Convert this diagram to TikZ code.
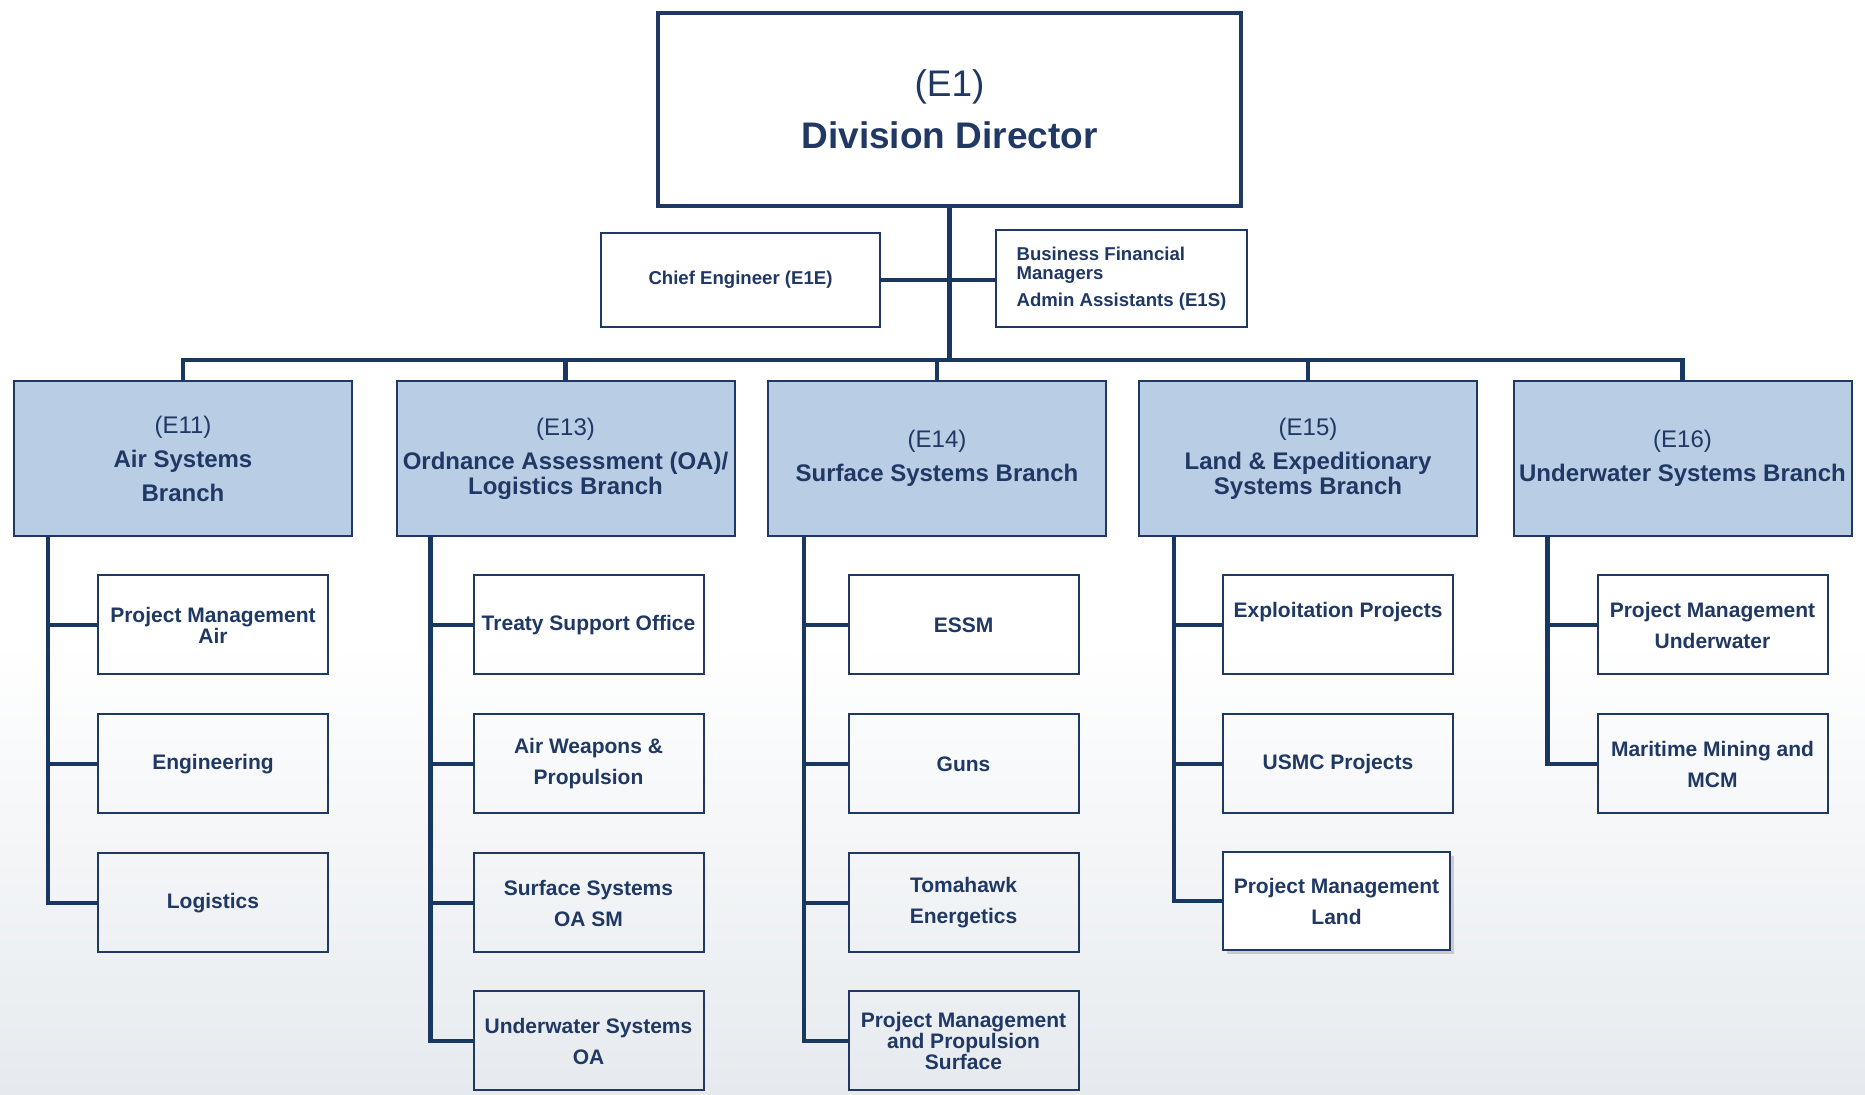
\documentclass[tikz,border=0pt]{standalone}
\usepackage{fontspec}
\setmainfont{Liberation Sans}
\usetikzlibrary{calc,shadows}
\definecolor{navy}{RGB}{31,56,100}
\definecolor{linenavy}{RGB}{24,56,98}
\definecolor{branchblue}{RGB}{185,205,228}
\definecolor{sea}{RGB}{230,234,238}

\begin{document}
\begin{tikzpicture}[x=0.5pt,y=-0.5pt,
  every node/.style={align=center,text=navy,inner sep=1pt},
  box/.style={draw=navy,line width=1pt},
  head/.style={box,fill=white,line width=1.8pt,minimum width=291.5pt,minimum height=96.5pt,font=\fontsize{18.5}{26}\selectfont},
  staff/.style={box,minimum height=47pt,font=\bfseries\fontsize{9.3}{9.5}\selectfont},
  branch/.style={box,fill=branchblue,minimum width=169pt,minimum height=77.5pt,font=\fontsize{12}{12.5}\selectfont},
  unit/.style={box,minimum width=115pt,minimum height=49.5pt,font=\bfseries\fontsize{10.5}{10.5}\selectfont},
  link/.style={draw=linenavy,line width=2.4pt}]
  \useasboundingbox (0,0) rectangle (1865,1095);
  \fill[white] (0,0) rectangle (1865,1095);
  \shade[top color=white,bottom color=sea] (0,640) rectangle (1865,1095);

  \node[head] (dir) at (949.5,109.5) {(E1)\\\textbf{Division Director}};
  \node[staff,minimum width=139.5pt] (chief) at (740.5,280) {Chief Engineer (E1E)};
  \node[staff,minimum width=125.5pt,minimum height=48.5pt,align=left] (biz) at (1121.5,278.5)
    {Business Financial\\Managers\\[4pt]Admin Assistants (E1S)};

  \node[branch] (b11) at (183,458.5) {(E11)\\[4.5pt]\textbf{Air Systems}\\[4.5pt]\textbf{Branch}};
  \node[branch] (b13) at (565.5,458.5) {(E13)\\[4.5pt]\textbf{Ordnance Assessment (OA)/}\\\textbf{Logistics Branch}};
  \node[branch] (b14) at (937,458.5) {(E14)\\[4.5pt]\textbf{Surface Systems Branch}};
  \node[branch] (b15) at (1308,458.5) {(E15)\\[4.5pt]\textbf{Land \& Expeditionary}\\\textbf{Systems Branch}};
  \node[branch] (b16) at (1682.5,458.5) {(E16)\\[4.5pt]\textbf{Underwater Systems Branch}};

  \node[unit] (c11a) at (213,625) {Project Management\\Air};
  \node[unit] (c11b) at (213,764) {Engineering};
  \node[unit] (c11c) at (213,903) {Logistics};

  \node[unit] (c13a) at (588.5,625) {Treaty Support Office};
  \node[unit] (c13b) at (588.5,764) {Air Weapons \&\\[5pt]Propulsion};
  \node[unit] (c13c) at (588.5,903) {Surface Systems\\[5pt]OA SM};
  \node[unit] (c13d) at (588.5,1041) {Underwater Systems\\[5pt]OA};

  \node[unit] (c14a) at (963.5,625) {ESSM};
  \node[unit] (c14b) at (963.5,764) {Guns};
  \node[unit] (c14c) at (963.5,903) {Tomahawk\\[5pt]Energetics};
  \node[unit] (c14d) at (963.5,1041) {Project Management\\and Propulsion\\Surface};

  \node[unit] (c15a) at (1338,625) {Exploitation Projects\\[5pt]\mbox{}};
  \node[unit] (c15b) at (1338,764) {USMC Projects};
  \node[unit,fill=white,minimum width=113.5pt,minimum height=49pt,
    drop shadow={opacity=0.35,shadow xshift=2pt,shadow yshift=-2pt}] (c15c) at (1336.5,901) {Project Management\\[5pt]Land};

  \node[unit] (c16a) at (1712.5,625) {Project Management\\[5pt]Underwater};
  \node[unit] (c16b) at (1712.5,764) {Maritime Mining and\\[5pt]MCM};

  \coordinate (bus) at (183,360);
  \draw[link] (dir.south) -- (dir.south |- bus);
  \draw[link] (chief.east) -- (chief.east -| biz.west);
  \draw[link] (b11.north) -- (b11.north |- bus) -- (b16.north |- bus) -- (b16.north);
  \foreach \b in {b13,b14,b15}
    \draw[link] (\b.north) -- (\b.north |- bus);

  \foreach \c in {c11a,c11b,c11c}
    \draw[link] ($(b11.south west)+(35,0)$) |- (\c.west);
  \foreach \c in {c13a,c13b,c13c,c13d}
    \draw[link] ($(b13.south west)+(35,0)$) |- (\c.west);
  \foreach \c in {c14a,c14b,c14c,c14d}
    \draw[link] ($(b14.south west)+(37,0)$) |- (\c.west);
  \foreach \c in {c15a,c15b,c15c}
    \draw[link] ($(b15.south west)+(36,0)$) |- (\c.west);
  \foreach \c in {c16a,c16b}
    \draw[link] ($(b16.south west)+(35,0)$) |- (\c.west);
\end{tikzpicture}
\end{document}
